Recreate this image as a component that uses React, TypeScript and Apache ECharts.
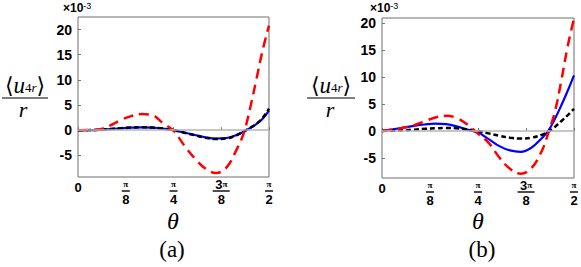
import React, { useEffect, useRef } from "react";
import * as echarts from "echarts";

const thetaDeg = [0, 5, 10, 15, 20, 25, 30, 35, 40, 45, 50, 55, 60, 65, 70, 75, 78, 81, 84, 87, 90];

const redA = [0, 0.02, 0.15, 0.9, 2.0, 2.8, 3.2, 3.0, 1.4, -0.1, -3.0, -5.6, -7.6, -8.5, -7.4, -3.6, -0.7, 4.2, 10.0, 15.9, 20.8];
const blueA = [0, 0.02, 0.08, 0.22, 0.38, 0.5, 0.55, 0.5, 0.3, 0, -0.45, -0.95, -1.4, -1.65, -1.55, -0.9, -0.3, 0.4, 1.2, 2.3, 3.9];
const blackA = [0, 0.02, 0.1, 0.25, 0.4, 0.52, 0.57, 0.52, 0.32, 0, -0.5, -1.0, -1.5, -1.75, -1.65, -0.95, -0.25, 0.45, 1.25, 2.45, 4.3];

const redB = [0, 0.25, 0.6, 1.05, 1.8, 2.5, 2.8, 2.4, 1.2, -0.5, -2.2, -4.9, -7.0, -7.9, -6.9, -3.6, -0.3, 3.5, 9.2, 15.6, 20.8];
const blueB = [0, 0.3, 0.62, 0.95, 1.2, 1.35, 1.25, 0.85, 0.25, -0.3, -1.5, -2.8, -3.6, -3.85, -3.1, -1.3, 0.05, 2.2, 4.7, 7.4, 10.3];
const blackB = [0, 0.05, 0.12, 0.25, 0.4, 0.5, 0.55, 0.5, 0.3, 0, -0.45, -0.9, -1.25, -1.4, -1.25, -0.7, -0.1, 0.75, 1.8, 2.9, 4.1];

const xTickValues = [0, 22.5, 45, 67.5, 90];
const xTickLabels = ["0", "π/8", "π/4", "3π/8", "π/2"];
const yTickValues = [-5, 0, 5, 10, 15, 20];

const SANS = '"Liberation Sans", Arial, sans-serif';
const SERIF = '"Liberation Serif", "DejaVu Serif", serif';

function pair(ys: number[]) {
  return thetaDeg.map((t, i) => [t, ys[i]]);
}

function xLabel(v: number) {
  const idx = xTickValues.findIndex((t) => Math.abs(t - v) < 1e-6);
  const lab = idx >= 0 ? xTickLabels[idx] : "";
  if (!lab.includes("/")) return "{z|" + lab + "}";
  const [num, den] = lab.split("/");
  const bar = num.length > 1 ? "{barw| }" : "{bar| }";
  const numTxt = num.length > 1 ? "{n3|" + num[0] + "}{n|" + num.slice(1) + "}" : "{n|" + num + "}";
  return numTxt + "\n" + bar + "\n{d|" + den + "}";
}

const xRich = {
  z: { fontSize: 13, fontWeight: 700, fontFamily: SANS, lineHeight: 16, color: "#000" },
  n: { fontSize: 9, fontFamily: SERIF, fontWeight: 700, lineHeight: 10, color: "#000" },
  n3: { fontSize: 13, fontWeight: 700, fontFamily: SANS, lineHeight: 10, color: "#000" },
  bar: { width: 8, height: 1.4, lineHeight: 4, backgroundColor: "#000", fontSize: 1 },
  barw: { width: 17, height: 1.4, lineHeight: 4, backgroundColor: "#000", fontSize: 1 },
  d: { fontSize: 13, fontWeight: 700, fontFamily: SANS, lineHeight: 13, color: "#000" },
};

function makeX(gridIndex: number) {
  return {
    type: "value",
    gridIndex,
    min: 0,
    max: 90,
    axisLine: { show: false },
    splitLine: { show: false },
    axisTick: { show: true, inside: true, length: 3, customValues: xTickValues, lineStyle: { color: "#777" } },
    axisLabel: { margin: 2, customValues: xTickValues, formatter: xLabel, rich: xRich, hideOverlap: false },
  };
}

function makeY(gridIndex: number, min: number, max: number) {
  return {
    type: "value",
    gridIndex,
    min,
    max,
    axisLine: { show: false },
    splitLine: { show: false },
    axisTick: { show: true, inside: true, length: 3, customValues: yTickValues, lineStyle: { color: "#777" } },
    axisLabel: {
      margin: 6,
      customValues: yTickValues,
      fontSize: 14,
      fontWeight: 700,
      fontFamily: SANS,
      color: "#000",
      hideOverlap: false,
    },
  };
}

function curves(idx: number, red: number[], blue: number[], black: number[]) {
  return [
    {
      type: "line",
      xAxisIndex: idx,
      yAxisIndex: idx,
      data: [],
      z: 1,
      markLine: {
        silent: true,
        symbol: ["none", "none"],
        label: { show: false },
        lineStyle: { color: "#b5b5b5", type: "solid", width: 1.5 },
        data: [{ yAxis: 0 }],
      },
    },
    {
      type: "line",
      xAxisIndex: idx,
      yAxisIndex: idx,
      data: pair(blue),
      smooth: 0.4,
      showSymbol: false,
      z: 2,
      lineStyle: { color: "#0000ff", width: 2.2 },
    },
    {
      type: "line",
      xAxisIndex: idx,
      yAxisIndex: idx,
      data: pair(black),
      smooth: 0.4,
      showSymbol: false,
      z: 3,
      lineStyle: { color: "#000", width: 2.5, type: [5, 3] },
    },
    {
      type: "line",
      xAxisIndex: idx,
      yAxisIndex: idx,
      data: pair(red),
      smooth: 0.4,
      showSymbol: false,
      z: 4,
      lineStyle: { color: "#ff0000", width: 2.5, type: [10, 6] },
    },
  ];
}

function yName(cx: number, barL: number, barR: number, rx: number) {
  return [
    {
      type: "text",
      x: cx,
      y: 85,
      style: {
        text: "{a|⟨}{u|u}{s|4}{si|r}{a|⟩}",
        align: "center",
        verticalAlign: "middle",
        rich: {
          a: { fontSize: 22, fontFamily: SERIF, lineHeight: 18, fill: "#000" },
          u: { fontSize: 23, fontFamily: SERIF, fontStyle: "italic", lineHeight: 18, fill: "#000" },
          s: { fontSize: 13, fontFamily: SERIF, lineHeight: 8, verticalAlign: "bottom", fill: "#000" },
          si: { fontSize: 13, fontFamily: SERIF, fontStyle: "italic", lineHeight: 8, verticalAlign: "bottom", fill: "#000" },
        },
      },
    },
    {
      type: "line",
      shape: { x1: barL, y1: 98, x2: barR, y2: 98 },
      style: { stroke: "#000", lineWidth: 1.2 },
    },
    {
      type: "text",
      x: rx,
      y: 109,
      style: { text: "r", align: "center", verticalAlign: "middle", fontSize: 22, lineHeight: 16, fontFamily: SERIF, fontStyle: "italic", fill: "#000" },
    },
  ];
}

function expo(x: number) {
  return {
    type: "text",
    x,
    y: 8,
    style: {
      text: "{a|×10}{b|-3}",
      align: "left",
      verticalAlign: "middle",
      rich: {
        a: { fontSize: 12, fontWeight: 700, fontFamily: SANS, lineHeight: 14, fill: "#000" },
        b: { fontSize: 9, fontFamily: SANS, lineHeight: 9, verticalAlign: "top", fill: "#000" },
      },
    },
  };
}

function caption(x: number, y: number, text: string, italic: boolean, size: number) {
  return {
    type: "text",
    x,
    y,
    style: {
      text,
      align: "center",
      verticalAlign: "middle",
      fontSize: size,
      lineHeight: size,
      fontFamily: SERIF,
      fontStyle: italic ? "italic" : "normal",
      fill: "#000",
    },
  };
}

export default function App() {
  const ref = useRef<HTMLDivElement>(null);
  useEffect(() => {
    if (!ref.current) return;
    const chart = echarts.init(ref.current, undefined, { renderer: "svg" });
    chart.setOption({
      animation: false,
      backgroundColor: "#fff",
      grid: [
        { left: 78, top: 17, width: 191, height: 160, show: true, borderColor: "#6e6e6e", borderWidth: 1 },
        { left: 382, top: 18, width: 194, height: 160, show: true, borderColor: "#6e6e6e", borderWidth: 1 },
      ],
      xAxis: [makeX(0), makeX(1)],
      yAxis: [makeY(0, -9.3, 22.5), makeY(1, -8.7, 20.9)],
      series: [...curves(0, redA, blueA, blackA), ...curves(1, redB, blueB, blackB)],
      graphic: [
        ...yName(25, 2, 48, 23),
        ...yName(331, 307, 355, 330),
        expo(63),
        expo(370),
        caption(173, 221, "θ", true, 24),
        caption(172, 249, "(a)", false, 23),
        caption(478, 221, "θ", true, 24),
        caption(482, 249, "(b)", false, 23),
      ],
    });
    return () => chart.dispose();
  }, []);
  return <div ref={ref} style={{ position: "absolute", left: 0, top: 0, width: 581, height: 267 }} />;
}
